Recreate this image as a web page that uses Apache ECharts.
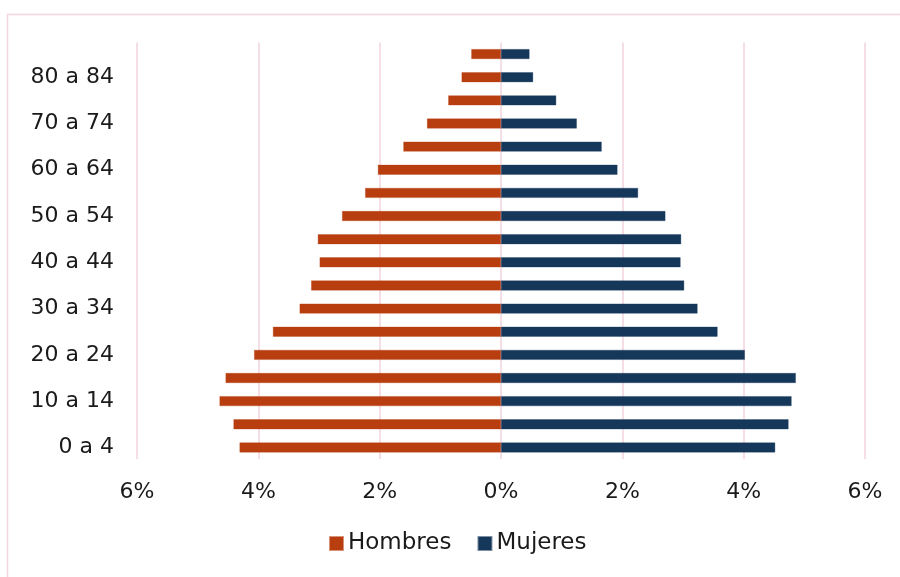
<!DOCTYPE html>
<html>
<head>
<meta charset="utf-8">
<script src="https://cdn.jsdelivr.net/npm/echarts@6/dist/echarts.min.js"></script>
<style>
  html, body { margin: 0; padding: 0; background: #ffffff; }
  #chart { width: 900px; height: 577px; }
</style>
</head>
<body>
<div id="chart"></div>
<script>
// Age groups, youngest first (bottom of the pyramid)
const ageGroups = [
  '0 a 4', '5 a 9', '10 a 14', '15 a 19', '20 a 24', '25 a 29',
  '30 a 34', '35 a 39', '40 a 44', '45 a 49', '50 a 54', '55 a 59',
  '60 a 64', '65 a 69', '70 a 74', '75 a 79', '80 a 84', '85 y más'
];

// Share of total population (%) by sex
const hombres = [4.31, 4.41, 4.64, 4.54, 4.07, 3.76, 3.32, 3.13, 2.99, 3.02,
                 2.62, 2.24, 2.03, 1.61, 1.22, 0.87, 0.65, 0.49];
const mujeres = [4.52, 4.74, 4.79, 4.86, 4.02, 3.57, 3.24, 3.02, 2.96, 2.97,
                 2.71, 2.26, 1.92, 1.66, 1.25, 0.91, 0.53, 0.47];

// Axis ticks (%)
const xTicks = { min: -6, max: 6, interval: 2 };

const FONT = 'DejaVu Sans';
const TEXT = '#1a1a1a';
const PINK = '#F3D3DE';
const COLOR_H = '#B83D0F';
const COLOR_M = '#14375A';

const chart = echarts.init(document.getElementById('chart'), null, { renderer: 'canvas' });

chart.setOption({
  animation: false,
  backgroundColor: '#ffffff',
  textStyle: { fontFamily: FONT },
  graphic: [{
    // open frame: left and top edges of the chart area
    type: 'polyline',
    shape: { points: [[7.5, 590], [7.5, 14.5], [905, 14.5]] },
    style: { fill: null, stroke: '#F2D6E0', lineWidth: 1.5 },
    silent: true, z: -1
  }],
  grid: { left: 137, right: 35, top: 42.5, bottom: 118, containLabel: false },
  legend: {
    left: 329, top: 532, padding: 0,
    itemWidth: 13, itemHeight: 13, itemGap: 26,
    icon: 'rect',
    textStyle: { fontFamily: FONT, fontSize: 23, color: TEXT },
    data: ['Hombres', 'Mujeres']
  },
  xAxis: {
    type: 'value',
    min: xTicks.min, max: xTicks.max, interval: xTicks.interval,
    axisLine: { show: false },
    axisTick: { show: false },
    splitLine: { show: true, lineStyle: { color: PINK, width: 1.5 } },
    axisLabel: {
      margin: 22,
      fontFamily: FONT, fontSize: 22, color: TEXT,
      formatter: v => Math.abs(v) + '%'
    }
  },
  yAxis: {
    type: 'category',
    data: ageGroups,
    axisLine: { show: false },
    axisTick: { show: false },
    splitLine: { show: false },
    axisLabel: {
      interval: 1,
      margin: 23,
      fontFamily: FONT, fontSize: 22, color: TEXT
    }
  },
  series: [
    {
      name: 'Hombres',
      type: 'bar',
      data: hombres.map(v => -v),
      barWidth: 10,
      barGap: '-100%',
      itemStyle: { color: COLOR_H, borderColor: 'rgba(184,61,15,0.55)', borderWidth: 0.6 }
    },
    {
      name: 'Mujeres',
      type: 'bar',
      data: mujeres,
      barWidth: 10,
      itemStyle: { color: COLOR_M, borderColor: 'rgba(20,55,90,0.55)', borderWidth: 0.6 }
    }
  ]
});
</script>
</body>
</html>
